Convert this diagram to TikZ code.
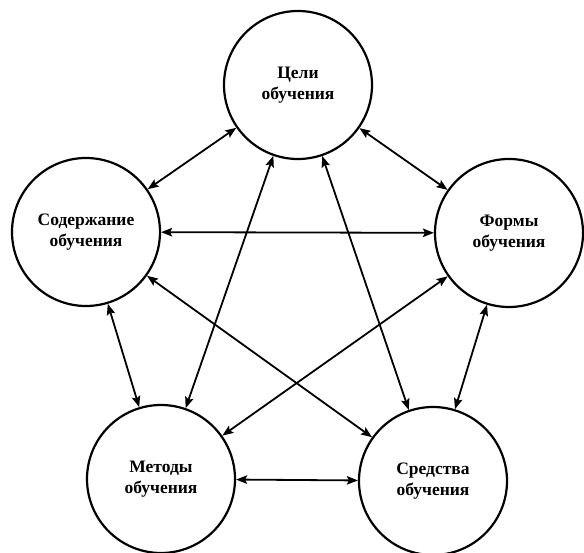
\documentclass[tikz,border=0pt]{standalone}
\usepackage{fontspec}
\setmainfont{Liberation Serif}
\usetikzlibrary{arrows.meta}
\begin{document}
\begin{tikzpicture}[x=1pt,y=-1pt,
  goal/.style={circle,draw,line width=2.2pt,minimum size=148pt,inner sep=0pt,align=center,
    font=\fontsize{17.5}{21}\selectfont\bfseries},
  link/.style={line width=1.8pt,{Stealth[length=11pt,width=8.5pt,inset=2pt]}-{Stealth[length=11pt,width=8.5pt,inset=2pt]}}]
\useasboundingbox (0,0) rectangle (584,553);
\node[goal] (t) at (298,85) {Цели\\обучения};
\node[goal] (l) at (86,232) {Содержание\\обучения};
\node[goal] (r) at (509,233) {Формы\\обучения};
\node[goal] (bl) at (161,479) {Методы\\обучения};
\node[goal] (br) at (433,481) {Средства\\обучения};
\draw[link] (t) -- (l);
\draw[link] (t) -- (r);
\draw[link] (t) -- (bl);
\draw[link] (t) -- (br);
\draw[link] (l) -- (r);
\draw[link] (l) -- (bl);
\draw[link] (l) -- (br);
\draw[link] (r) -- (bl);
\draw[link] (r) -- (br);
\draw[link] (bl) -- (br);
\end{tikzpicture}
\end{document}
